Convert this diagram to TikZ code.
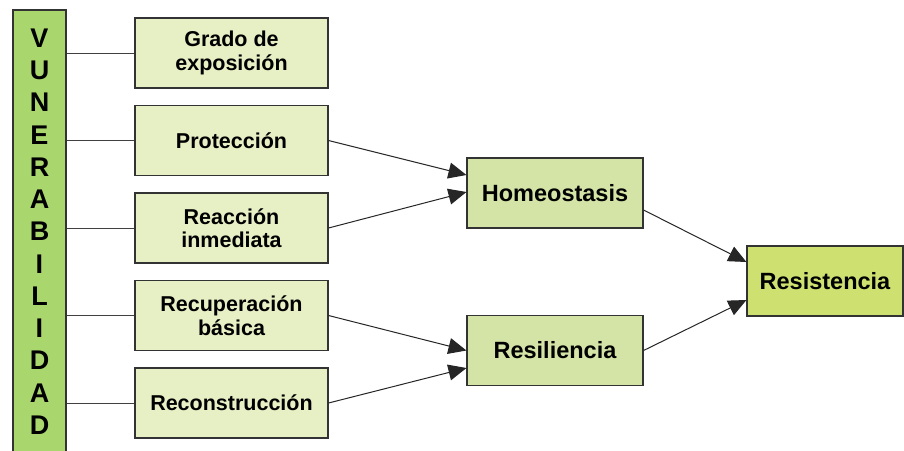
\documentclass[tikz,border=0pt]{standalone}
\usepackage{fontspec}
\setmainfont{Liberation Sans}
\usetikzlibrary{arrows.meta}

\definecolor{verdeBarra}{RGB}{170,214,110}
\definecolor{verdeClaro}{RGB}{231,239,197}
\definecolor{verdeMedio}{RGB}{211,228,166}
\definecolor{verdeFinal}{RGB}{206,225,112}

\begin{document}
\begin{tikzpicture}[x=1pt, y=-1pt,
    caja/.style={draw=black!80, line width=1.1pt, fill=#1, minimum height=70pt,
        inner sep=2pt, align=center},
    hoja/.style={caja=verdeClaro, minimum width=193pt,
        font=\bfseries\fontsize{21.5}{23.5}\selectfont},
    medio/.style={caja=verdeMedio, minimum width=176pt,
        font=\bfseries\fontsize{23.5}{25}\selectfont},
    final/.style={caja=verdeFinal, minimum width=156pt,
        font=\bfseries\fontsize{23.5}{25}\selectfont},
    linea/.style={draw=black!75, line width=1pt},
    flecha/.style={draw=black!85, line width=1pt, -{Triangle[length=18pt,width=16pt]}}
]
    % marco
    \useasboundingbox (0,0) rectangle (904,450);
    \clip (0,0) rectangle (904,450);

    % barra vertical
    \node[caja=verdeBarra, minimum width=53pt, minimum height=443pt,
        font=\bfseries\fontsize{27}{32.25}\selectfont] (vul) at (39.5,231.5)
        {V\\U\\N\\E\\R\\A\\B\\I\\L\\I\\D\\A\\D};

    % cajas de la izquierda
    \node[hoja] (gra) at (231.5,53) {Grado de\\exposición};
    \node[hoja] (pro) at (231.5,140.5) {Protección};
    \node[hoja] (rea) at (231.5,228) {Reacción\\inmediata};
    \node[hoja] (rec) at (231.5,315.5) {Recuperación\\básica};
    \node[hoja] (con) at (231.5,403) {Reconstrucción};

    % cajas del centro
    \node[medio] (hom) at (555,193) {Homeostasis};
    \node[medio] (res) at (555,350.5) {Resiliencia};

    % caja final
    \node[final] (fin) at (825,281) {Resistencia};

    % lineas desde la barra
    \draw[linea] (vul.east |- gra.west) -- (gra.west);
    \draw[linea] (vul.east |- pro.west) -- (pro.west);
    \draw[linea] (vul.east |- rea.west) -- (rea.west);
    \draw[linea] (vul.east |- rec.west) -- (rec.west);
    \draw[linea] (vul.east |- con.west) -- (con.west);

    % flechas
    \draw[flecha] (pro.east) -- ([yshift=18pt]hom.west);
    \draw[flecha] (rea.east) -- ([yshift=1pt]hom.west);
    \draw[flecha] (rec.east) -- (res.west);
    \draw[flecha] (con.east) -- ([yshift=-17.5pt]res.west);
    \draw[flecha] ([yshift=-17pt]hom.east) -- ([yshift=19pt]fin.west);
    \draw[flecha] (res.east) -- ([yshift=-19pt]fin.west);

\end{tikzpicture}
\end{document}
